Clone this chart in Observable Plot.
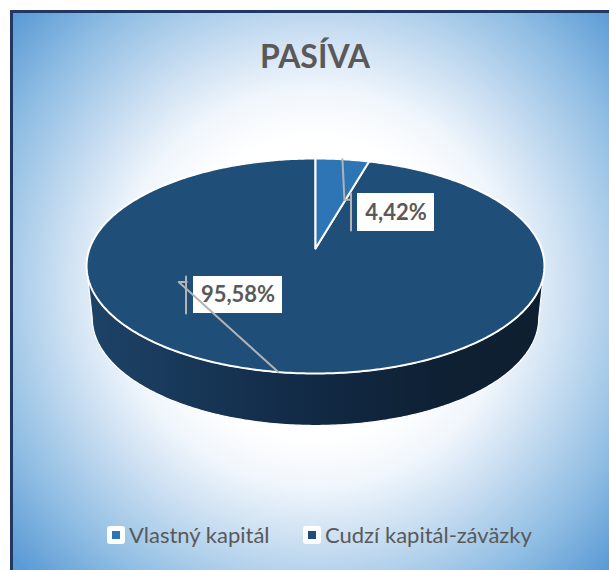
<!DOCTYPE html>
<html lang="sk">
<head>
<meta charset="utf-8">
<title>PASÍVA</title>
<script src="https://cdn.jsdelivr.net/npm/d3@7"></script>
<script src="https://cdn.jsdelivr.net/npm/@observablehq/plot@0.6"></script>
<style>
  html, body { margin: 0; padding: 0; width: 609px; height: 570px; overflow: hidden; background: #fff; }
  #frame {
    position: absolute; left: 10px; top: 10px; width: 640px; height: 600px; box-sizing: border-box;
    border: 3px solid #203864;
    background: radial-gradient(circle 405px at 302px 275px,
      #ffffff 0, #ffffff 37%, #f0f6fc 49%, #d0e2f3 61%, #8fbde3 83%, #5b9bd5 100%);
  }
  #title {
    position: absolute; left: 0; width: 630px; top: 36px; text-align: center;
    font: bold 32px/40px Lato, sans-serif; color: #595959;
  }
  #chart { position: absolute; left: 0; top: 110px; }
  #chart svg { display: block; background: none; }
  .lg { position: absolute; top: 519px; height: 32px; font: 22px/32px Lato, sans-serif; color: #595959; white-space: nowrap; }
  .lg i { position: absolute; left: 0; top: 7px; width: 18px; height: 18px; background: #fff; border-radius: 3px; }
  .lg b { position: absolute; left: 5px; top: 5px; width: 8px; height: 8px; }
  .lg span { position: absolute; left: 22px; top: 0; }
</style>
</head>
<body>
<div id="frame"></div>
<div id="title"></div>
<div id="chart"></div>
<script>
const chartTitle = "PASÍVA";
const categories = ["Vlastný kapitál", "Cudzí kapitál-záväzky"];
const shares = [4.42, 95.58];
const shareLabels = ["4,42%", "95,58%"];
const sliceColors = ["#2e75b6", "#1f4e79"];

// Layout of the 3D pie, in page pixels
const cx = 315, apexY = 248, persp = 0.1628, radX = 225.9, radY = 104.65;
const depth = 52, baseShrink = 0.975;
const W = 609, chartTop = 110, H = 400;

const rim = (t, dy = 0, s = 1) => {
  const w = 1 + persp * Math.cos(t);
  return {x: cx + s * radX * Math.sin(t) / w, y: apexY + dy - radY * Math.cos(t) / w};
};
const sweep = (a, b, dy, s) => {
  const n = Math.max(2, Math.ceil((b - a) * 80));
  return d3.range(n + 1).map(i => rim(a + (b - a) * i / n, dy, s));
};

const arcs = d3.pie().sort(null)(shares);
const apex = {x: cx, y: apexY};
const slices = arcs.map(a => [apex, ...sweep(a.startAngle, a.endAngle), apex]);

// Wall of the disc: front half of the rim between its widest points, then back along the base
const rightT = Math.acos(-persp), leftT = 2 * Math.PI - rightT;
const wall = [...sweep(rightT, leftT), ...sweep(rightT, leftT, depth, baseShrink).reverse()];
wall.push(wall[0]);

// Callouts hang off the middle of each slice
const layout = [
  {elbow: [2, 40.5], tail: [6, 0], bar: [350.5, 193, 230], box: [357, 193, 434, 231]},
  {elbow: [-99.5, -90], tail: [8, 0], bar: [185.5, 276, 313], box: [193, 276, 282, 313]}
];
const callouts = arcs.map((a, i) => {
  const p = rim((a.startAngle + a.endAngle) / 2), l = layout[i];
  const e = {x: p.x + l.elbow[0], y: p.y + l.elbow[1]};
  return {
    label: shareLabels[i],
    leader: [p, e, {x: e.x + l.tail[0], y: e.y + l.tail[1]}],
    bar: [{x: l.bar[0], y: l.bar[1]}, {x: l.bar[0], y: l.bar[2]}],
    x1: l.box[0], y1: l.box[1], x2: l.box[2], y2: l.box[3]
  };
});

const defs = () => {
  const d = d3.create("svg:defs");
  d.html(`<linearGradient id="wallGrad" x1="0" x2="1" y1="0" y2="0">
    <stop offset="0" stop-color="#1d4368"/><stop offset="0.45" stop-color="#122b47"/>
    <stop offset="0.78" stop-color="#0e2033"/><stop offset="1" stop-color="#0e1f30"/>
  </linearGradient>`);
  return d.node();
};

const leaderStyle = {x: "x", y: "y", stroke: "#b3b3b3", strokeWidth: 2, curve: "linear"};

const plot = Plot.plot({
  width: W, height: H,
  marginTop: 0, marginRight: 0, marginBottom: 0, marginLeft: 0,
  x: {domain: [0, W], range: [0, W], axis: null},
  y: {domain: [chartTop + H, chartTop], range: [H, 0], axis: null},
  style: {background: "none", overflow: "visible"},
  marks: [
    defs,
    Plot.line(wall, {x: "x", y: "y", fill: "url(#wallGrad)", stroke: "#ffffff", strokeWidth: 1.2, curve: "linear"}),
    ...[1, 0].map(i => Plot.line(slices[i], {x: "x", y: "y", fill: sliceColors[i], stroke: "#ffffff", strokeWidth: 2, strokeLinejoin: "round", curve: "linear"})),
    Plot.rect(callouts, {x1: "x1", x2: "x2", y1: "y1", y2: "y2", fill: "#ffffff"}),
    ...callouts.flatMap(c => [Plot.line(c.leader, leaderStyle), Plot.line(c.bar, leaderStyle)]),
    Plot.text(callouts, {
      x: d => (d.x1 + d.x2) / 2, y: d => (d.y1 + d.y2) / 2, text: "label",
      fill: "#595959", fontSize: 22, fontWeight: 700, fontFamily: "Lato, sans-serif",
      textAnchor: "middle", lineAnchor: "middle"
    })
  ]
});
document.getElementById("chart").append(plot);
document.getElementById("title").textContent = chartTitle;

const legendLeft = [107, 303];
categories.forEach((name, i) => {
  const el = document.createElement("div");
  el.className = "lg";
  el.style.left = legendLeft[i] + "px";
  el.innerHTML = `<i><b style="background:${sliceColors[i]}"></b></i><span>${name}</span>`;
  document.body.append(el);
});
</script>
</body>
</html>
